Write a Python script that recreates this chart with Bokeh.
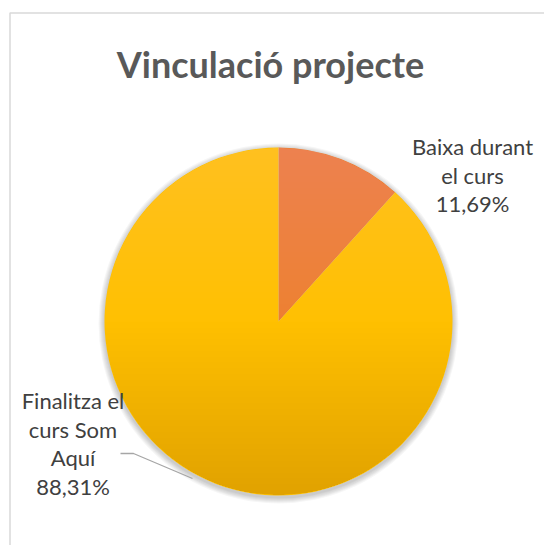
import numpy as np
from bokeh.plotting import figure
from bokeh.models import Range1d, ColumnDataSource
from bokeh.core.properties import value
from bokeh.embed import file_html
from bokeh.resources import INLINE

# ---- data ----
categories = ["Baixa durant el curs", "Finalitza el curs Som Aquí"]
shares = [11.69, 88.31]
label_lines = [["Baixa durant", "el curs", "11,69%"],
               ["Finalitza el", "curs Som", "Aquí", "88,31%"]]
colors = ["#ED7D31", "#FFC000"]
title = "Vinculació projecte"

# ---- layout (screenshot pixel coordinates; y is negated) ----
W, H = 544, 545
cx, cy, R = 278, -321, 174

p = figure(width=W, height=H, output_backend="svg", toolbar_location=None,
           x_range=Range1d(0, W), y_range=Range1d(-H, 0),
           min_border=0, outline_line_color=None)
p.axis.visible = False
p.grid.visible = False
p.background_fill_color = "white"
p.border_fill_color = "white"

# chart frame (top and left edges visible)
p.line(x=[9.5, 9.5, 560], y=[-560, -12.5, -12.5], line_color="#D9D9D9", line_width=1.5)

# title
p.text(x=[270], y=[-63], text=[title], text_align="center", text_baseline="alphabetic",
       text_font=value("Lato"), text_font_style="bold", text_font_size="36px",
       text_color="#595959")

# soft shadow
for k in range(1, 7):
    p.circle(x=[cx], y=[cy - 2], radius=R + k, fill_color="black",
             fill_alpha=0.035, line_color=None)

# slices
frac = np.array(shares) / sum(shares)
cum = np.concatenate([[0], np.cumsum(frac)])
starts = np.pi / 2 - 2 * np.pi * cum[:-1]
ends = np.pi / 2 - 2 * np.pi * cum[1:]
src = ColumnDataSource(dict(start=list(starts), end=list(ends), color=colors, cat=categories))
p.wedge(x=cx, y=cy, radius=R, start_angle="start", end_angle="end", direction="clock",
        fill_color="color", line_color=None, source=src)

# vertical gradient overlay (lighter top, darker bottom)
def cap(y_from, y_to, n=60):
    ys = np.linspace(y_from, y_to, n)
    xs = np.sqrt(np.clip(R ** 2 - (ys - cy) ** 2, 0, None))
    return list(np.concatenate([cx + xs, (cx - xs)[::-1]])), list(np.concatenate([ys, ys[::-1]]))

N = 30
wx, wy, bx, by = [], [], [], []
for i in range(1, N + 1):
    y_end = cy + R - R * i / N
    xx, yy = cap(cy + R, y_end)
    wx.append(xx); wy.append(yy)
    y_end2 = cy - R + R * i / N
    xx, yy = cap(cy - R, y_end2)
    bx.append(xx); by.append(yy)
p.patches(xs=wx, ys=wy, fill_color="white", fill_alpha=0.0075, line_color=None)
p.patches(xs=bx, ys=by, fill_color="black", fill_alpha=0.0028, line_color=None)

# leader line for the big slice
p.line(x=[120, 133, 192], y=[-453, -453, -478], line_color="#A6A6A6", line_width=1.3)

# labels
label_pos = [(472, -146), (72.5, -400)]
for lines, (lx, ly) in zip(label_lines, label_pos):
    ys = [ly - 28.5 * i for i in range(len(lines))]
    p.text(x=[lx] * len(lines), y=ys, text=lines, text_align="center",
           text_baseline="alphabetic", text_font=value("Lato"), text_font_size="22px",
           text_color="#404040")

open("out.html", "w").write(file_html(p, INLINE))
